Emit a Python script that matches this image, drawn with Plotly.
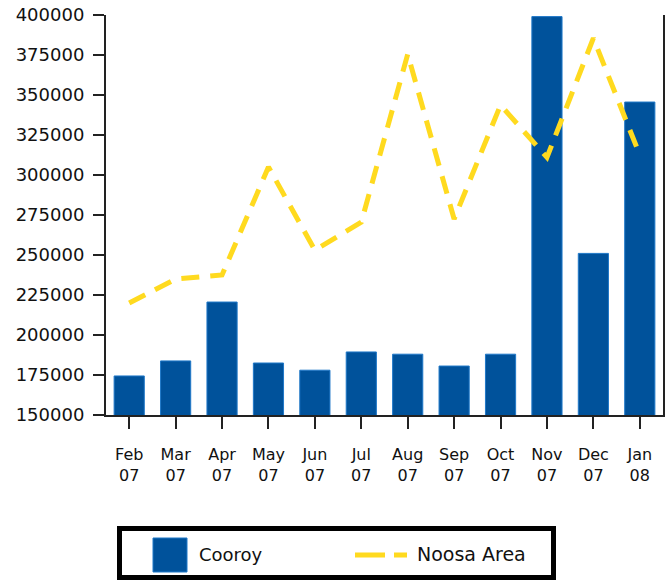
import plotly.graph_objects as go

months = ["Feb<br>07", "Mar<br>07", "Apr<br>07", "May<br>07", "Jun<br>07", "Jul<br>07",
          "Aug<br>07", "Sep<br>07", "Oct<br>07", "Nov<br>07", "Dec<br>07", "Jan<br>08"]
cooroy = [174400, 183800, 220600, 182500, 178000, 189400,
          188000, 180600, 188000, 399000, 251000, 345600]
noosa = [220000, 235000, 237500, 305000, 253000, 270500,
         375500, 272500, 343700, 311000, 385500, 312500]
yticks = [150000, 175000, 200000, 225000, 250000, 275000, 300000,
          325000, 350000, 375000, 400000]

W, H = 672, 582
L, R, T, B = 106, 663, 15, 415

BLUE = "#00529B"
YELLOW = "#FFDA1F"
FONT = "DejaVu Sans, Liberation Sans, Arial, sans-serif"

fig = go.Figure()
fig.add_trace(go.Bar(x=months, y=cooroy, name="Cooroy",
                     marker=dict(color=BLUE, line=dict(color="#1f78c8", width=1)),
                     showlegend=False))
fig.add_trace(go.Scatter(x=months, y=noosa, name="Noosa Area", mode="lines",
                         line=dict(color=YELLOW, width=5, dash="18px,11px"), showlegend=False))

def px_x(x):
    return (x - L) / (R - L)

def px_y(y):
    return (B - y) / (B - T)

shapes = [
    dict(type="rect", xref="paper", yref="paper", x0=px_x(119.5), x1=px_x(553.5), y0=px_y(528.5), y1=px_y(577.5),
         line=dict(color="black", width=5), fillcolor="white", layer="above"),
    dict(type="rect", xref="paper", yref="paper", x0=px_x(153), x1=px_x(187), y0=px_y(538), y1=px_y(572),
         line=dict(color="#1f78c8", width=1), fillcolor=BLUE, layer="above"),
    dict(type="line", xref="paper", yref="paper", x0=px_x(355), x1=px_x(407), y0=px_y(555), y1=px_y(555),
         line=dict(color=YELLOW, width=5, dash="30px,9px"), layer="above"),
]
annotations = [
    dict(text="Cooroy", xref="paper", yref="paper", x=px_x(197), y=px_y(554), xanchor="left", yanchor="middle",
         showarrow=False, font=dict(family=FONT, size=18, color="#111")),
    dict(text="Noosa Area", xref="paper", yref="paper", x=px_x(415), y=px_y(554), xanchor="left", yanchor="middle",
         showarrow=False, font=dict(family=FONT, size=19, color="#111")),
]

fig.update_layout(
    width=W, height=H,
    margin=dict(l=L, r=W - R, t=T, b=H - B, pad=0),
    plot_bgcolor="white", paper_bgcolor="white",
    bargap=0.35,
    showlegend=False,
    shapes=shapes, annotations=annotations,
    font=dict(family=FONT, color="#111"),
)
fig.update_xaxes(showline=True, linecolor="#222", linewidth=2, ticks="outside", ticklen=12, tickwidth=2,
                 tickcolor="#222", showgrid=False, tickfont=dict(size=16), ticklabelstandoff=12,
                 range=[-0.5, 11.5], automargin=False)
fig.update_yaxes(range=[150000, 400000], tickvals=yticks, ticktext=[str(v) for v in yticks],
                 showline=True, mirror=True, linecolor="#222", linewidth=2, ticks="outside", ticklen=11,
                 tickwidth=2, tickcolor="#222", showgrid=False, zeroline=False, tickfont=dict(size=18),
                 ticklabelstandoff=5, automargin=False)

fig.write_html("out.html", config={"displayModeBar": False},
               post_script="document.body.style.margin='0';document.body.style.overflow='hidden';")
